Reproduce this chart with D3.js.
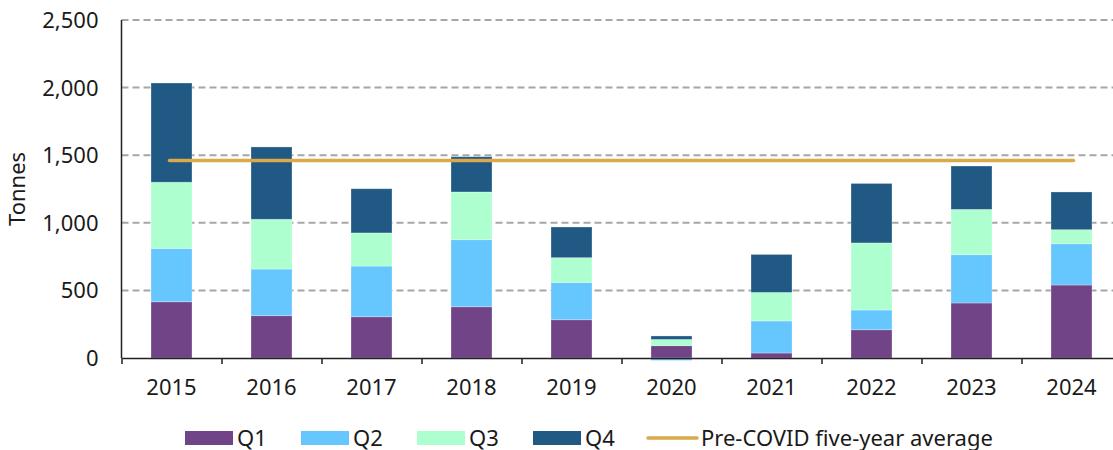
<!DOCTYPE html>
<html>
<head>
<meta charset="utf-8">
<script src="https://cdn.jsdelivr.net/npm/d3@7"></script>
<style>
  body { margin: 0; background: #fff; }
  svg { display: block; font-family: "Noto Sans", sans-serif; }
</style>
</head>
<body>
<div id="chart"></div>
<script>
// Quarterly tonnes by year
const years = ["2015", "2016", "2017", "2018", "2019", "2020", "2021", "2022", "2023", "2024"];
const q1 = [416, 313, 305, 379, 283, 91, 37, 209, 407, 540];
const q2 = [395, 345, 375, 496, 276, -18, 237, 146, 357, 305];
const q3 = [489, 368, 245, 353, 183, 46, 211, 496, 335, 104];
const q4 = [734, 535, 327, 261, 227, 26, 281, 440, 321, 279];
const preCovidAverage = 1460;
const yTicks = [0, 500, 1000, 1500, 2000, 2500];
const seriesNames = ["Q1", "Q2", "Q3", "Q4"];
const avgLabel = "Pre-COVID five-year average";

const colors = { Q1: "#704487", Q2: "#66c6fe", Q3: "#adffd0", Q4: "#215985" };
const avgColor = "#d9a94a";
const textColor = "#1a1a1a";
const fontSize = "22px";

const width = 1113, height = 450;
const margin = { top: 20, bottom: 92, left: 121.5 };
const innerWidth = 1000;
const innerHeight = height - margin.top - margin.bottom;

const rows = years.map((y, i) => ({ year: y, Q1: q1[i], Q2: q2[i], Q3: q3[i], Q4: q4[i] }));

const svg = d3.select("#chart")
    .append("svg")
    .attr("width", width)
    .attr("height", height);

// Scales (absolute page coordinates)
const x = d3.scaleBand()
    .domain(years)
    .range([margin.left, margin.left + innerWidth])
    .paddingInner(0.59)
    .paddingOuter(0.295);

const y = d3.scaleLinear()
    .domain([0, 2500])
    .range([margin.top + innerHeight, margin.top]);

// Gridlines
svg.append("g")
    .selectAll("line")
    .data(yTicks.filter(d => d > 0))
    .enter()
    .append("line")
    .attr("x1", margin.left)
    .attr("x2", width)
    .attr("y1", d => y(d))
    .attr("y2", d => y(d))
    .attr("stroke", "#a6a6a6")
    .attr("stroke-width", 2)
    .attr("stroke-dasharray", "7,4");

// Y tick labels
svg.append("g")
    .selectAll("text")
    .data(yTicks)
    .enter()
    .append("text")
    .attr("x", margin.left - 23)
    .attr("y", d => y(d) + 8)
    .attr("text-anchor", "end")
    .attr("font-size", fontSize)
    .attr("fill", textColor)
    .text(d3.format(","));

svg.append("line")
    .attr("x1", margin.left).attr("x2", margin.left)
    .attr("y1", y(2500)).attr("y2", y(0))
    .attr("stroke", "#222")
    .attr("stroke-width", 1.5);

svg.append("text")
    .attr("transform", `translate(25,${margin.top + innerHeight / 2}) rotate(-90)`)
    .attr("text-anchor", "middle")
    .attr("font-size", fontSize)
    .attr("fill", textColor)
    .text("Tonnes");

// Stacked bars (diverging so the negative 2020 Q2 goes below zero)
const stacked = d3.stack()
    .keys(seriesNames)
    .offset(d3.stackOffsetDiverging)(rows);

svg.append("g")
    .selectAll("g")
    .data(stacked)
    .enter()
    .append("g")
    .attr("fill", d => colors[d.key])
    .selectAll("rect")
    .data(d => d)
    .enter()
    .append("rect")
    .attr("x", d => x(d.data.year))
    .attr("width", x.bandwidth())
    .attr("y", d => y(Math.max(d[0], d[1])))
    .attr("height", d => Math.abs(y(d[0]) - y(d[1])))
    .attr("stroke", "rgba(255,255,255,0.35)")
    .attr("stroke-width", 0.8);

// X axis: boundary ticks
const xEdge = d3.scaleLinear().domain([0, years.length]).range([margin.left, margin.left + innerWidth]);
const xAxis = svg.append("g")
    .attr("transform", `translate(0,${y(0)})`)
    .call(d3.axisBottom(xEdge).ticks(years.length).tickFormat("").tickSize(6).tickSizeOuter(0));
xAxis.selectAll("text").remove();
xAxis.select(".domain").attr("stroke", "#222").attr("stroke-width", 1.5);
xAxis.selectAll(".tick line").attr("stroke", "#222").attr("stroke-width", 1.5);

// Year labels
svg.append("g")
    .selectAll("text")
    .data(years)
    .enter()
    .append("text")
    .attr("x", d => x(d) + x.bandwidth() / 2)
    .attr("y", y(0) + 37)
    .attr("text-anchor", "middle")
    .attr("font-size", fontSize)
    .attr("fill", textColor)
    .text(d => d);

// Pre-COVID average line
svg.append("line")
    .attr("x1", x(years[0]) + x.bandwidth() / 2 - 2)
    .attr("x2", x(years[years.length - 1]) + x.bandwidth() / 2 + 2)
    .attr("y1", y(preCovidAverage))
    .attr("y2", y(preCovidAverage))
    .attr("stroke", avgColor)
    .attr("stroke-width", 3.5)
    .attr("stroke-linecap", "round");

// Legend
const legend = svg.append("g").attr("transform", "translate(0,438)");
const items = legend.selectAll("g")
    .data(seriesNames)
    .enter()
    .append("g")
    .attr("transform", (d, i) => `translate(${185 + i * 116},0)`);
items.append("rect")
    .attr("x", 0).attr("y", -7)
    .attr("width", 48).attr("height", 14)
    .attr("fill", d => colors[d]);
items.append("text")
    .attr("x", 52).attr("y", 8)
    .attr("font-size", fontSize)
    .attr("fill", textColor)
    .text(d => d);

const avgItem = legend.append("g").attr("transform", "translate(648,0)");
avgItem.append("line")
    .attr("x1", 0).attr("x2", 49)
    .attr("y1", 0).attr("y2", 0)
    .attr("stroke", avgColor)
    .attr("stroke-width", 3.5)
    .attr("stroke-linecap", "round");
avgItem.append("text")
    .attr("x", 53).attr("y", 8)
    .attr("font-size", fontSize)
    .attr("fill", textColor)
    .text(avgLabel);
</script>
</body>
</html>
